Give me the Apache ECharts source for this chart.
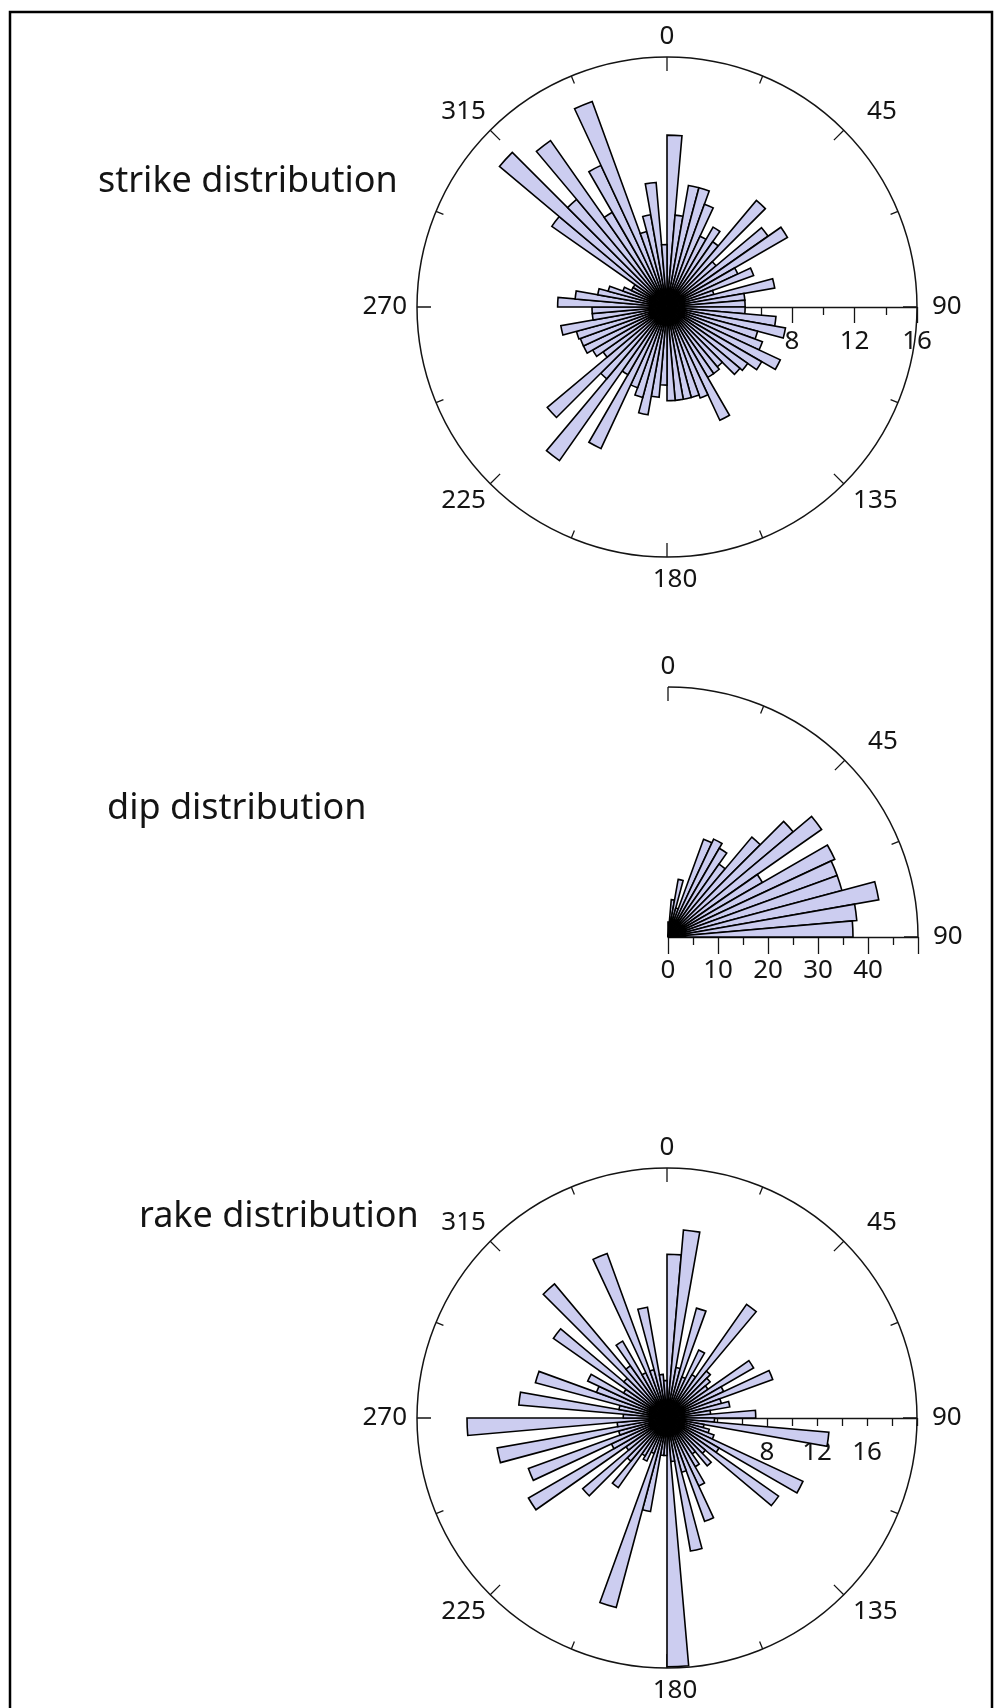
<!DOCTYPE html>
<html>
<head>
<meta charset="utf-8">
<title>strike / dip / rake rose diagrams</title>
<script src="https://cdn.jsdelivr.net/npm/echarts@6/dist/echarts.min.js"></script>
<style>
  html, body { margin: 0; padding: 0; background: #fff; }
  #main { width: 994px; height: 1708px; }
</style>
</head>
<body>
<div id="main"></div>
<script>
// bin start angles (5 degree bins)
const fullBins = [
  '0','5','10','15','20','25','30','35','40','45','50','55',
  '60','65','70','75','80','85','90','95','100','105','110','115',
  '120','125','130','135','140','145','150','155','160','165','170','175',
  '180','185','190','195','200','205','210','215','220','225','230','235',
  '240','245','250','255','260','265','270','275','280','285','290','295',
  '300','305','310','315','320','325','330','335','340','345','350','355'
];
const dipBins = ['0','5','10','15','20','25','30','35','40','45','50','55','60','65','70','75','80','85'];

// counts per bin
const strikeCounts = [
  11.0, 5.9, 7.9, 7.9, 7.0, 5.0, 5.9, 5.1, 8.9, 4.1, 7.9, 8.9,
  5.0, 5.9, 3.1, 7.0, 5.0, 5.0, 5.0, 7.0, 7.7, 6.0, 6.5, 8.0,
  7.0, 6.3, 6.1, 5.0, 5.2, 5.2, 8.0, 6.2, 6.0, 6.0, 6.0, 6.0,
  5.0, 5.8, 7.0, 6.0, 5.5, 10.0, 5.0, 12.0, 6.0, 10.0, 5.0, 5.5,
  5.9, 5.9, 6.0, 6.9, 4.8, 4.8, 7.0, 5.9, 4.5, 3.9, 3.0, 2.5,
  2.5, 9.0, 14.0, 9.0, 13.0, 7.0, 10.0, 14.0, 5.0, 6.0, 8.0, 4.0
];
const dipCounts = [3.0, 7.5, 11.7, 6.0, 20.8, 21.6, 20.5, 17.8, 26.1, 32.7, 37.5, 21.8, 36.8, 36.0, 36.0, 42.8, 37.9, 37.0];
const rakeCounts = [
  13.1, 15.1, 4.1, 9.1, 3.5, 6.0, 4.0, 11.1, 4.9, 4.5, 4.0, 8.0,
  5.0, 9.0, 4.5, 5.1, 3.5, 7.1, 3.8, 13.0, 3.0, 3.5, 4.0, 12.0,
  4.8, 10.9, 4.0, 5.0, 3.5, 4.5, 6.0, 8.8, 4.5, 10.8, 3.5, 19.9,
  3.0, 3.0, 7.6, 15.7, 3.0, 3.8, 3.5, 6.8, 4.5, 8.8, 4.0, 12.8,
  4.9, 11.8, 4.0, 13.8, 4.0, 16.0, 3.5, 11.9, 3.9, 10.9, 6.0, 7.0,
  4.0, 11.1, 4.5, 14.0, 5.1, 7.1, 4.0, 14.0, 4.0, 9.0, 3.5, 3.0
];

// tick labels
const compassLabels = [0, 45, 90, 135, 180, 225, 270, 315];
const strikeRadiusLabels = [8, 12, 16];
const dipRadiusLabels = [0, 10, 20, 30, 40];
const rakeRadiusLabels = [8, 12, 16];

const FONT = '"Noto Sans", "DejaVu Sans", sans-serif';
const INK = '#141414';
const BAR_FILL = '#cccdf0';
const LABEL_SIZE = 26;

// small nudges so the compass labels sit where the original put them
// padding: [top, right, bottom, left]
const compassPad = {
    0: [0, 0, 1, 0], 45: [0, 0, 1, 19], 90: [0, 0, 0, 9], 135: [0, 0, 0, 5],
    180: [4, 0, 0, 16], 225: [0, 0, 0, 0], 270: [0, 4, 0, 0], 315: [0, 0, 1, 0]
};
const compassRich = {};
compassLabels.forEach(function (v) {
    compassRich['a' + v] = {
        padding: compassPad[v],
        fontFamily: FONT,
        fontSize: LABEL_SIZE,
        color: INK
    };
});

const hidden = {
    show: false,
    axisLine: { show: false },
    axisTick: { show: false },
    axisLabel: { show: false },
    splitLine: { show: false }
};

function ringAxis(polarIndex, max, endAngle) {
    const axis = {
        polarIndex: polarIndex,
        type: 'value',
        min: 0,
        max: max,
        interval: 45,
        startAngle: 90,
        clockwise: true,
        axisLine: { lineStyle: { color: INK, width: 1.5 } },
        axisTick: { inside: true, length: 14, lineStyle: { color: INK, width: 1.3 } },
        minorTick: { show: true, splitNumber: 2, length: 8, lineStyle: { color: INK, width: 1.3 } },
        axisLabel: {
            margin: 6,
            color: INK,
            fontFamily: FONT,
            fontSize: LABEL_SIZE,
            formatter: function (v) {
                return compassLabels.indexOf(v) >= 0 ? '{a' + v + '|' + v + '}' : '';
            },
            rich: compassRich
        },
        splitLine: { show: false }
    };
    if (endAngle !== undefined) axis.endAngle = endAngle;
    return axis;
}

// the radial scale lies along the east direction; ticks and labels
// hang below it, so lengths and margin are flipped to the other side
function scaleAxis(polarIndex, max, interval, labels, majorLen, minorLen, margin) {
    return {
        polarIndex: polarIndex,
        type: 'value',
        min: 0,
        max: max,
        interval: interval,
        axisLine: { lineStyle: { color: INK, width: 1.4 } },
        axisTick: { length: -majorLen, lineStyle: { color: INK, width: 1.3 } },
        minorTick: { show: minorLen > 0, splitNumber: 2, length: -minorLen, lineStyle: { color: INK, width: 1.3 } },
        axisLabel: {
            margin: -margin,
            verticalAlign: 'top',
            color: INK,
            fontFamily: FONT,
            fontSize: LABEL_SIZE,
            formatter: function (v) { return labels.indexOf(v) >= 0 ? String(v) : ''; }
        },
        splitLine: { show: false }
    };
}

const strikeCenter = [667, 307];
const dipCenter = [668, 937];
const rakeCenter = [667, 1418];
const R = 250;

const option = {
    animation: false,
    backgroundColor: '#fff',
    polar: [
        { center: strikeCenter, radius: R },
        { center: strikeCenter, radius: R },
        { center: strikeCenter, radius: R },
        { center: dipCenter, radius: R },
        { center: dipCenter, radius: R },
        { center: dipCenter, radius: R },
        { center: rakeCenter, radius: R },
        { center: rakeCenter, radius: R },
        { center: rakeCenter, radius: R }
    ],
    angleAxis: [
        ringAxis(0, 360),
        Object.assign({ polarIndex: 1, type: 'value', min: 0, max: 360, startAngle: 0 }, hidden),
        Object.assign({ polarIndex: 2, type: 'category', data: fullBins, startAngle: 90, clockwise: true }, hidden),

        ringAxis(3, 90, 0),
        Object.assign({ polarIndex: 4, type: 'value', min: 0, max: 90, startAngle: 0, endAngle: -90 }, hidden),
        Object.assign({ polarIndex: 5, type: 'category', data: dipBins, startAngle: 90, endAngle: 0, clockwise: true }, hidden),

        ringAxis(6, 360),
        Object.assign({ polarIndex: 7, type: 'value', min: 0, max: 360, startAngle: 0 }, hidden),
        Object.assign({ polarIndex: 8, type: 'category', data: fullBins, startAngle: 90, clockwise: true }, hidden)
    ],
    radiusAxis: [
        Object.assign({ polarIndex: 0, type: 'value', min: 0, max: 16 }, hidden),
        scaleAxis(1, 16, 4, strikeRadiusLabels, 16, 8, 22),
        Object.assign({ polarIndex: 2, type: 'value', min: 0, max: 16 }, hidden),

        Object.assign({ polarIndex: 3, type: 'value', min: 0, max: 50 }, hidden),
        scaleAxis(4, 50, 10, dipRadiusLabels, 17, 8, 21),
        Object.assign({ polarIndex: 5, type: 'value', min: 0, max: 50 }, hidden),

        Object.assign({ polarIndex: 6, type: 'value', min: 0, max: 20 }, hidden),
        scaleAxis(7, 20, 2, rakeRadiusLabels, 8, 0, 22),
        Object.assign({ polarIndex: 8, type: 'value', min: 0, max: 20 }, hidden)
    ],
    series: [
        { name: 'strike', data: strikeCounts, polarIndex: 2 },
        { name: 'dip', data: dipCounts, polarIndex: 5 },
        { name: 'rake', data: rakeCounts, polarIndex: 8 }
    ].map(function (s) {
        return {
            name: s.name,
            type: 'bar',
            coordinateSystem: 'polar',
            polarIndex: s.polarIndex,
            data: s.data,
            barCategoryGap: '0%',
            silent: true,
            itemStyle: { color: BAR_FILL, borderColor: '#000', borderWidth: 1.6 }
        };
    }),
    graphic: [
        {
            type: 'rect',
            shape: { x: 10, y: 12, width: 982, height: 1730 },
            style: { fill: 'none', stroke: '#000', lineWidth: 2.5 },
            silent: true
        },
        { type: 'text', x: 98, y: 182, style: { text: 'strike distribution', font: '36px ' + FONT, fill: INK, textVerticalAlign: 'middle' } },
        { type: 'text', x: 107, y: 809, style: { text: 'dip distribution', font: '36px ' + FONT, fill: INK, textVerticalAlign: 'middle' } },
        { type: 'text', x: 139, y: 1217, style: { text: 'rake distribution', font: '36px ' + FONT, fill: INK, textVerticalAlign: 'middle' } }
    ]
};

const myChart = echarts.init(document.getElementById('main'));
myChart.setOption(option);
</script>
</body>
</html>
